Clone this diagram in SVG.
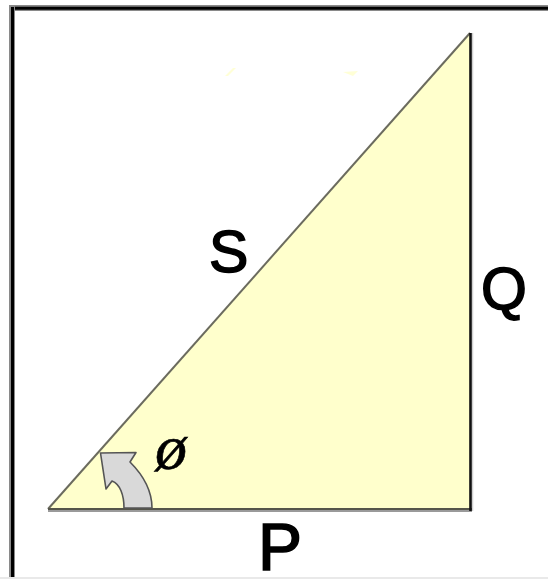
<svg xmlns="http://www.w3.org/2000/svg" width="548" height="579" viewBox="0 0 548 579">
<style>
.lbl{font-family:"Liberation Sans",Arial,sans-serif;fill:#000;stroke:#000;stroke-width:1.6}
.ang{font-family:"Liberation Serif","Times New Roman",serif;font-style:italic;fill:#000;stroke:#000;stroke-width:0.6}
</style>
<rect width="548" height="579" fill="#fff"/>
<g id="frame">
<line x1="9" y1="8" x2="548" y2="8" stroke="#8a8a8a" stroke-width="6"/>
<line x1="11" y1="8.3" x2="548" y2="8.3" stroke="#000" stroke-width="3"/>
<line x1="12" y1="5" x2="12" y2="577" stroke="#8a8a8a" stroke-width="6"/>
<line x1="12.5" y1="7" x2="12.5" y2="577" stroke="#000" stroke-width="3"/>
<line x1="0" y1="578" x2="548" y2="578" stroke="#e2e2e2" stroke-width="1.5"/>
</g>
<g id="triangle">
<polygon points="48,509 470.5,509 470.5,33" fill="#ffffcc"/>
<polygon points="225,76 233,68 236,68 228,76" fill="#ffffcc" opacity="0.8"/>
<polygon points="343,72 358,71 353,76" fill="#ffffcc" opacity="0.8"/>
</g>
<g id="connectors">
<line x1="48" y1="509" x2="470" y2="33" stroke="#6b6b5e" stroke-width="2"/>
<line x1="48" y1="511" x2="472" y2="511" stroke="#9a9a9a" stroke-width="2"/>
<line x1="48" y1="509" x2="472" y2="509" stroke="#55554a" stroke-width="2"/>
<line x1="472.5" y1="33" x2="472.5" y2="511" stroke="#d0d0d0" stroke-width="1.5"/>
<line x1="470.5" y1="33" x2="470.5" y2="511" stroke="#111" stroke-width="2.6"/>
</g>
<g id="angle-arrow">
<path d="M124,508 C124,495 120,484 112,481 L106,489 L100.5,453 L136,452.5 L130,462 C142,474 152,490 152,508 Z" fill="#d9d9d9" stroke="#555" stroke-width="1.6" stroke-linejoin="round"/>
</g>
<g id="label-S"><text class="lbl" x="209" y="272" font-size="59">S</text></g>
<g id="label-Q"><text class="lbl" x="481" y="309" font-size="59">Q</text></g>
<g id="label-P"><text class="lbl" x="258" y="570" font-size="66">P</text></g>
<g id="label-phi"><text class="ang" x="155" y="469" font-size="64">ø</text></g>
</svg>
